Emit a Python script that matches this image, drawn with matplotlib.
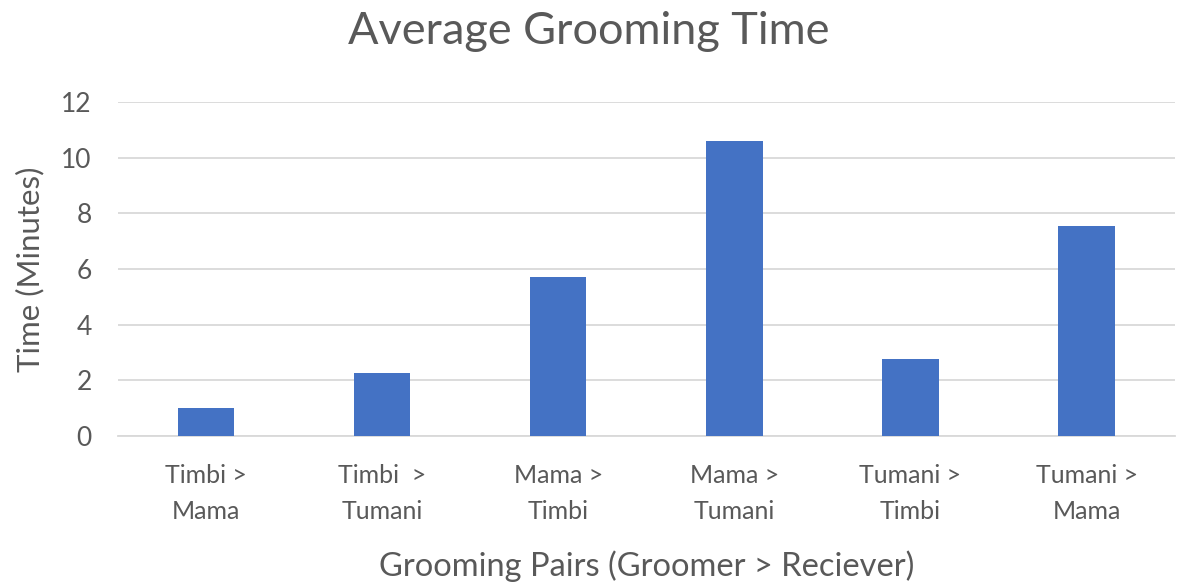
import matplotlib
matplotlib.use("Agg")
import matplotlib.pyplot as plt

categories = ["Timbi >\nMama", "Timbi  >\nTumani", "Mama >\nTimbi", "Mama >\nTumani", "Tumani >\nTimbi", "Tumani >\nMama"]
values = [1.0, 2.25, 5.7, 10.6, 2.75, 7.55]
yticks = [0, 2, 4, 6, 8, 10, 12]

plt.rcParams['font.family'] = ['Lato', 'DejaVu Sans']
txt = '#595959'
fig = plt.figure(figsize=(11.77, 5.87), dpi=100)
ax = fig.add_axes([0.1003, 0.2577, 0.8977, 0.568])
x = list(range(len(categories)))
ax.bar(x, values, width=0.32, color='#4472C4', zorder=3)
ax.set_xlim(-0.5, len(categories) - 0.5)
ax.set_ylim(0, 12)
ax.set_yticks(yticks)
ax.set_yticklabels([str(v) for v in yticks])
ax.set_xticks(x)
ax.set_xticklabels(categories, linespacing=1.7)
ax.grid(axis='y', color='#d9d9d9', linewidth=1.3, zorder=0)
for s in ['top', 'right', 'left']:
    ax.spines[s].set_visible(False)
ax.spines['bottom'].set_color('#d9d9d9')
ax.spines['bottom'].set_linewidth(1.3)
ax.tick_params(axis='x', length=0, labelsize=18, labelcolor=txt, pad=20)
ax.tick_params(axis='y', length=0, labelsize=19, labelcolor=txt, pad=19)
ax.set_ylabel("Time (Minutes)", fontsize=22.5, color=txt, labelpad=12)
ax.set_xlabel("Grooming Pairs (Groomer > Reciever)", fontsize=23.5, color=txt, labelpad=20)
fig.text(0.5, 0.947, "Average Grooming Time", ha='center', va='center', fontsize=32.5, color=txt)
fig.savefig("out.png", dpi=100, facecolor='white')
